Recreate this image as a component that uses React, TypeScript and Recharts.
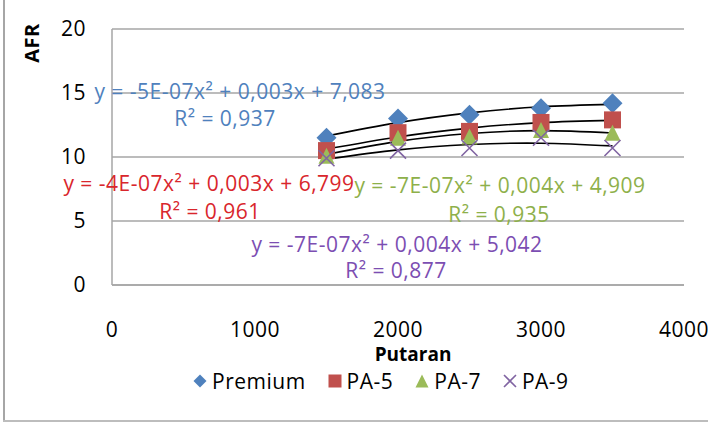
import React from "react";
import {
  ComposedChart,
  Scatter,
  Line,
  XAxis,
  YAxis,
  CartesianGrid,
} from "recharts";

const putaran = [1500, 2000, 2500, 3000, 3500];
const premium = [11.5, 13.0, 13.3, 13.8, 14.2];
const pa5 = [10.5, 11.9, 12.0, 12.7, 12.9];
const pa7 = [10.1, 11.5, 11.6, 12.1, 11.9];
const pa9 = [9.9, 10.5, 10.7, 11.5, 10.7];

const xTicks = [0, 1000, 2000, 3000, 4000];
const yTicks = [0, 5, 10, 15, 20];

const FONT = "'Open Sans', sans-serif";
const FS = 21;
const LS = 0.5;

// least squares 2nd order fit, like the excel trendline
function quadFit(xs: number[], ys: number[]) {
  const s = [0, 0, 0, 0, 0];
  const t = [0, 0, 0];
  xs.forEach((xv, i) => {
    const x = xv / 1000;
    for (let k = 0; k < 5; k++) s[k] += Math.pow(x, k);
    for (let k = 0; k < 3; k++) t[k] += ys[i] * Math.pow(x, k);
  });
  const m = [
    [s[0], s[1], s[2]],
    [s[1], s[2], s[3]],
    [s[2], s[3], s[4]],
  ];
  const det = (a: number[][]) =>
    a[0][0] * (a[1][1] * a[2][2] - a[1][2] * a[2][1]) -
    a[0][1] * (a[1][0] * a[2][2] - a[1][2] * a[2][0]) +
    a[0][2] * (a[1][0] * a[2][1] - a[1][1] * a[2][0]);
  const d = det(m);
  const coef = [0, 1, 2].map((c) => {
    const mc = m.map((row, r) => row.map((v, j) => (j === c ? t[r] : v)));
    return det(mc) / d;
  });
  return xs.map((xv) => {
    const x = xv / 1000;
    return { x: xv, y: coef[0] + coef[1] * x + coef[2] * x * x };
  });
}

const Diamond = ({ cx, cy, r = 10 }: any) => (
  <path
    d={`M${cx},${cy - r}L${cx + r},${cy}L${cx},${cy + r}L${cx - r},${cy}Z`}
    fill="#4F81BD"
  />
);
const Square = ({ cx, cy, r = 8.5 }: any) => (
  <rect x={cx - r} y={cy - r} width={2 * r} height={2 * r} fill="#C0504D" />
);
const Triangle = ({ cx, cy, r = 8 }: any) => (
  <path
    d={`M${cx},${cy - r}L${cx + r},${cy + r}L${cx - r},${cy + r}Z`}
    fill="#9BBB59"
  />
);
const Cross = ({ cx, cy, r = 8 }: any) => (
  <path
    d={`M${cx - r},${cy - r}L${cx + r},${cy + r}M${cx + r},${cy - r}L${cx - r},${cy + r}`}
    stroke="#8064A2"
    strokeWidth={1.6}
    fill="none"
  />
);

const series = [
  { name: "Premium", values: premium, shape: Diamond },
  { name: "PA-5", values: pa5, shape: Square },
  { name: "PA-7", values: pa7, shape: Triangle },
  { name: "PA-9", values: pa9, shape: Cross },
];

const equations = [
  { eq: "y = -5E-07x² + 0,003x + 7,083", r2: "R² = 0,937", color: "#4F81BD", ex: 240, ey: 91, rx: 225, ry: 118 },
  { eq: "y = -4E-07x² + 0,003x + 6,799", r2: "R² = 0,961", color: "#D9262C", ex: 209, ey: 183, rx: 210, ry: 211 },
  { eq: "y = -7E-07x² + 0,004x + 4,909", r2: "R² = 0,935", color: "#8EB04A", ex: 500, ey: 185, rx: 499, ry: 214 },
  { eq: "y = -7E-07x² + 0,004x + 5,042", r2: "R² = 0,877", color: "#7C4EB2", ex: 397, ey: 244, rx: 396, ry: 270 },
];

const legendIcon = (name: string) => {
  if (name === "Premium") return <Diamond cx={9} cy={10} r={6.5} />;
  if (name === "PA-5") return <Square cx={9} cy={10} r={6.5} />;
  if (name === "PA-7") return <Triangle cx={9} cy={10} r={6.5} />;
  return <Cross cx={9} cy={10} r={6} />;
};

const toPoints = (vals: number[]) => putaran.map((x, i) => ({ x, y: vals[i] }));

const tickStyle = { fontSize: FS, fill: "#000", fontFamily: FONT, letterSpacing: LS };

export default function App() {
  return (
    <div
      style={{
        position: "absolute",
        left: 0,
        top: 0,
        width: 708,
        height: 423,
        overflow: "hidden",
        background: "#fff",
        fontFamily: FONT,
        letterSpacing: LS,
      }}
    >
      <div style={{ position: "absolute", left: 3, top: 0, width: 2, height: 422, background: "#a6a6a6" }} />
      <div style={{ position: "absolute", left: 3, top: 420, width: 705, height: 2, background: "#bdbdbd" }} />
      <ComposedChart
        width={708}
        height={423}
        margin={{ top: 29, right: 24, bottom: 108, left: 0 }}
      >
        <CartesianGrid vertical={false} stroke="#a6a6a6" strokeWidth={1.5} />
        <XAxis
          dataKey="x"
          type="number"
          domain={[0, 4000]}
          ticks={xTicks}
          height={30}
          tickLine={false}
          axisLine={{ stroke: "#a6a6a6", strokeWidth: 1.5 }}
          tickMargin={31}
          tick={tickStyle}
          interval={0}
        />
        <YAxis
          type="number"
          domain={[0, 20]}
          ticks={yTicks}
          width={112}
          tickLine={false}
          axisLine={{ stroke: "#a6a6a6", strokeWidth: 1.5 }}
          tickMargin={20}
          tick={tickStyle}
          label={{
            content: ({ viewBox }: any) => (
              <text
                x={viewBox.x + 39}
                y={viewBox.y + 14}
                transform={`rotate(-90 ${viewBox.x + 39} ${viewBox.y + 14})`}
                textAnchor="middle"
                fontSize={20}
                fontWeight="bold"
                fontFamily={FONT}
                fill="#000"
              >
                AFR
              </text>
            ),
          }}
        />
        {series.map((s) => (
          <Scatter
            key={s.name}
            name={s.name}
            data={toPoints(s.values)}
            dataKey="y"
            shape={s.shape}
            isAnimationActive={false}
          />
        ))}
        {series.map((s) => (
          <Line
            key={"trend-" + s.name}
            data={quadFit(putaran, s.values)}
            dataKey="y"
            type="natural"
            stroke="#000"
            strokeWidth={1.6}
            dot={false}
            legendType="none"
            isAnimationActive={false}
          />
        ))}
      </ComposedChart>
      {equations.map((e) => (
        <React.Fragment key={e.eq}>
          <div
            style={{
              position: "absolute",
              left: e.ex,
              top: e.ey,
              transform: "translate(-50%, -50%)",
              whiteSpace: "nowrap",
              color: e.color,
              fontSize: FS,
            }}
          >
            {e.eq}
          </div>
          <div
            style={{
              position: "absolute",
              left: e.rx,
              top: e.ry,
              transform: "translate(-50%, -50%)",
              whiteSpace: "nowrap",
              color: e.color,
              fontSize: FS,
            }}
          >
            {e.r2}
          </div>
        </React.Fragment>
      ))}
      <div
        style={{
          position: "absolute",
          left: 413,
          top: 354,
          transform: "translate(-50%, -50%)",
          fontWeight: "bold",
          fontSize: 19,
          letterSpacing: 0,
        }}
      >
        Putaran
      </div>
      <div
        style={{
          position: "absolute",
          left: 191,
          top: 381,
          transform: "translateY(-50%)",
          display: "flex",
          alignItems: "center",
          fontSize: FS,
          whiteSpace: "nowrap",
        }}
      >
        {series.map((s) => (
          <div key={s.name} style={{ display: "flex", alignItems: "center", marginRight: 20 }}>
            <svg width={18} height={20} style={{ marginRight: 3 }}>
              {legendIcon(s.name)}
            </svg>
            <span>{s.name}</span>
          </div>
        ))}
      </div>
    </div>
  );
}
